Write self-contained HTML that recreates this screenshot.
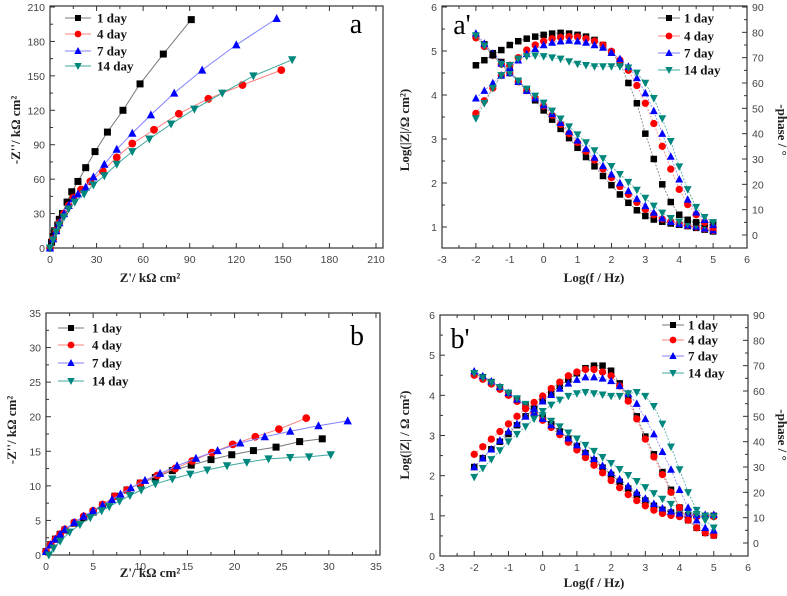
<!DOCTYPE html>
<html><head><meta charset="utf-8"><style>
html,body{margin:0;padding:0;background:#fff;}
svg{display:block;}
.tk{font-family:"Liberation Sans",sans-serif;font-size:10.5px;fill:#444;}
.tt{font-family:"Liberation Serif",serif;font-size:13px;font-weight:bold;fill:#222;}
.lg{font-family:"Liberation Serif",serif;font-size:13px;font-weight:bold;fill:#111;}
.pl{font-family:"Liberation Serif",serif;font-size:28px;fill:#000;}
</style></head><body>
<svg id="fig" width="787" height="596" viewBox="0 0 787 596" xmlns="http://www.w3.org/2000/svg"></svg>
<script>
const seriesNames = ["1 day","4 day","7 day","14 day"];
// Panel a (Nyquist) [Z', -Z'']
const aX1=[0,1,2,3,5,6,8,11,14,18,23,29,37,47,58,73,91];
const aY1=[0,5,10,15,20,25,30,40,49,58,70,84,101,120,143,169,199];
const aX4=[0,2,4,6,9,12,15,20,26,34,43,53,67,83,102,124,149];
const aY4=[0,8,15,22,30,37,44,51,58,67,79,91,103,117,130,142,155];
const aX7=[0,2,4,6,9,12,15,18,23,28,35,43,53,65,80,98,120,146];
const aY7=[0,8,15,22,30,37,43,47,53,62,73,86,100,116,135,155,177,200];
const aX14=[0,2,4,6,9,12,16,22,28,35,43,53,64,78,93,111,131,156];
const aY14=[0,7,14,20,27,34,40,47,55,63,73,84,95,108,121,135,150,164];
// Panel b (Nyquist)
const bX1=[0,0.5,1,1.5,2,3,4,5,6,7.3,8.6,10,11.6,13.4,15.4,17.5,19.7,22,24.4,26.9,29.3];
const bY1=[0.5,1.5,2.3,3,3.6,4.6,5.4,6.2,7.2,8.5,9.4,10.4,11.2,12.2,13,13.8,14.5,15.1,15.6,16.4,16.8];
const bX4=[0,0.5,1,1.5,2,3,4,5,6,7.3,8.6,10,11.8,13.7,15.5,17.6,19.8,22.2,24.7,27.6];
const bY4=[0.5,1.5,2.3,3,3.7,4.7,5.6,6.4,7.3,8.5,9.4,10.4,11.5,12.5,13.6,14.8,16,17.1,18.2,19.8];
const bX7=[0,0.5,1,1.5,2,3,4,5,6,7,7.9,9,10.5,12.1,13.9,15.9,18.2,20.6,23.2,25.9,28.9,32];
const bY7=[0.5,1.5,2.3,3,3.7,4.7,5.6,6.4,7.2,8,8.8,9.7,10.8,11.8,12.9,14,15.1,16.2,17.1,17.9,18.7,19.4];
const bX14=[0.3,0.8,1.5,2.5,3.6,4.7,5.9,6.7,7.8,8.9,10.1,11.6,13.4,15.3,17.1,19.2,21.3,23.6,25.9,27.9,30.2];
const bY14=[0,1,2,3.3,4.4,5.4,6.4,7,7.8,8.6,9.4,10.3,11,11.7,12.3,12.9,13.4,13.9,14.1,14.2,14.5];
// Bode frequencies (log f)
const logF=[-2,-1.75,-1.5,-1.25,-1,-0.75,-0.5,-0.25,0,0.25,0.5,0.75,1,1.25,1.5,1.75,2,2.25,2.5,2.75,3,3.25,3.5,3.75,4,4.25,4.5,4.75,5];
// Panel a' log|Z|
const apZ1=[5.35,5.15,4.95,4.75,4.55,4.32,4.1,3.88,3.65,3.44,3.23,3.02,2.8,2.59,2.38,2.16,1.95,1.74,1.55,1.38,1.25,1.17,1.12,1.08,1.05,1.02,0.98,0.94,0.9];
const apZ4=[5.3,5.1,4.9,4.7,4.5,4.3,4.1,3.93,3.75,3.54,3.33,3.12,2.92,2.72,2.52,2.32,2.12,1.92,1.74,1.56,1.4,1.28,1.18,1.12,1.07,1.03,1.0,0.96,0.92];
const apZ7=[5.4,5.17,4.94,4.72,4.5,4.3,4.1,3.93,3.77,3.57,3.37,3.17,2.97,2.78,2.58,2.39,2.2,2.0,1.82,1.64,1.48,1.33,1.2,1.12,1.07,1.04,1.01,0.97,0.93];
const apZ14=[5.35,5.12,4.9,4.7,4.5,4.32,4.14,3.98,3.82,3.64,3.46,3.28,3.1,2.92,2.74,2.56,2.38,2.2,2.02,1.84,1.66,1.48,1.32,1.2,1.12,1.07,1.04,1.03,1.05];
// Panel a' -phase
const apP1=[67,69,71,73,75,76.5,77.5,78.3,79,79.5,79.8,79.5,79,78.3,77,75,72,68,60,52,40,30,20,13,8,6,5,4.5,4];
const apP4=[48,53,58,63,67,70,73,75,76.5,77.5,78,78.3,78.2,77.5,76.5,75,72.5,69,65,59,52,44,35,26,18,12,8,5,3];
const apP7=[54,57,60,63,66,69,71.5,73.5,75,76,76.5,76.8,76.5,76,75,74,72,69.5,66.5,62,56,49,40,31,22,14,9,6,4];
const apP14=[46,52,58,63,67,69.5,70.5,70.8,70.5,70,69.5,68.5,67.5,67,66.5,66.5,66.5,66.5,66,64,60,54,46,37,27,18,11,7,5];
// Panel b' log|Z|
const bpZ1=[4.55,4.45,4.33,4.2,4.05,3.9,3.75,3.6,3.45,3.28,3.1,2.92,2.74,2.56,2.38,2.2,2.02,1.85,1.68,1.52,1.38,1.25,1.15,1.08,1.03,1.01,1.0,1.0,1.0];
const bpZ4=[4.5,4.4,4.28,4.15,4.0,3.85,3.7,3.55,3.38,3.2,3.02,2.83,2.64,2.45,2.26,2.07,1.88,1.7,1.53,1.38,1.25,1.14,1.06,1.01,0.98,0.98,0.98,0.98,0.98];
const bpZ7=[4.6,4.48,4.35,4.21,4.06,3.9,3.74,3.58,3.42,3.26,3.1,2.93,2.76,2.59,2.42,2.25,2.08,1.91,1.74,1.58,1.43,1.3,1.19,1.11,1.06,1.04,1.03,1.03,1.03];
const bpZ14=[4.55,4.44,4.32,4.2,4.06,3.92,3.78,3.64,3.5,3.36,3.22,3.07,2.92,2.76,2.61,2.46,2.31,2.16,2.01,1.86,1.71,1.56,1.42,1.29,1.18,1.1,1.04,1.0,0.98];
// Panel b' -phase
const bpP1=[30,33.5,37,40,43,46.5,50,53,56,59,62,64.5,67,69,70,70,68,63,57,50,42,35,28,21,14,9,6,4,3];
const bpP4=[35,38,41,44,47,50,53,55.5,58,61,63.5,66,67.5,68.5,68.5,67.5,66,62,56,49,41,34,27,20,14,9,6,4,3];
const bpP7=[30,33.5,37,40.5,44,47,50,53,56,58.5,61,63,64.5,65.5,65.5,65,64,62,59,55,49,43,36,29,21,14,9,6,5];
const bpP14=[26,29.5,33,36.5,40,43,46,49,52,54.5,56.5,58,59,59.5,59,58.5,58,58,59,59.5,58,54,47,38,29,20,13,9,6];

const xTicksNyqA=[0,30,60,90,120,150,180,210];
const xTicksNyqB=[0,5,10,15,20,25,30,35];
const xTicksBode=[-3,-2,-1,0,1,2,3,4,5,6];
const yTicksLogA=[1,2,3,4,5,6];
const yTicksLogB=[0,1,2,3,4,5,6];
const yTicksPhase=[0,10,20,30,40,50,60,70,80,90];

const NS="http://www.w3.org/2000/svg";
const svg=document.getElementById('fig');
const mcol=["#000000","#ff0000","#0000ff","#00877d"];
const lcol=["#777777","#ff8080","#8080ff","#40a8a0"];
function el(tag,attrs,parent){const e=document.createElementNS(NS,tag);for(const k in attrs)e.setAttribute(k,attrs[k]);(parent||svg).appendChild(e);return e;}
function scale(d0,d1,p0,p1){return v=>p0+(v-d0)*(p1-p0)/(d1-d0);}
function marker(g,k,x,y,s){
  let e;
  if(k===0){e=el('rect',{x:x-s/2,y:y-s/2,width:s,height:s,fill:mcol[0]},g);}
  else if(k===1){e=el('circle',{cx:x,cy:y,r:s/2+0.4,fill:mcol[1]},g);}
  else if(k===2){e=el('polygon',{points:`${x},${y-s/2-1} ${x-s/2-0.7},${y+s/2} ${x+s/2+0.7},${y+s/2}`,fill:mcol[2]},g);}
  else {e=el('polygon',{points:`${x},${y+s/2+1} ${x-s/2-0.7},${y-s/2} ${x+s/2+0.7},${y-s/2}`,fill:mcol[3]},g);}
  
  
}
function text(str,x,y,cls,anchor,parent,name,rot){
  const t=el('text',{x:x,y:y,class:cls,'text-anchor':anchor||'middle'},parent);
  if(rot)t.setAttribute('transform',`rotate(${rot} ${x} ${y})`);
  t.textContent=str;
  
  
  return t;
}
function frame(g,x0,y0,x1,y1){
  const r=el('rect',{x:x0,y:y0,width:x1-x0,height:y1-y0,fill:'none',stroke:'#333','stroke-width':1.2},g);
  
  
}
function xAxis(g,sx,ticks,y0,y1){
  for(let i=0;i<ticks.length;i++){
    const x=sx(ticks[i]);
    el('line',{x1:x,y1:y1,x2:x,y2:y1-5,stroke:'#333'},g);
    el('line',{x1:x,y1:y0,x2:x,y2:y0+5,stroke:'#333'},g);
    if(i<ticks.length-1){const xm=(x+sx(ticks[i+1]))/2;el('line',{x1:xm,y1:y1,x2:xm,y2:y1-3,stroke:'#333'},g);el('line',{x1:xm,y1:y0,x2:xm,y2:y0+3,stroke:'#333'},g);}
    text(String(ticks[i]),x,y1+15,'tk','middle',g,'x-tick-label');
  }
}
function yAxis(g,sy,ticks,x0,x1,side){
  for(let i=0;i<ticks.length;i++){
    const y=sy(ticks[i]);
    if(side==='left'){el('line',{x1:x0,y1:y,x2:x0+5,y2:y,stroke:'#333'},g);text(String(ticks[i]),x0-5,y+4,'tk','end',g,'y-tick-label');}
    else {el('line',{x1:x1,y1:y,x2:x1-5,y2:y,stroke:'#333'},g);text(String(ticks[i]),x1+5,y+4,'tk','start',g,'y2-tick-label');}
    if(i<ticks.length-1){const ym=(y+sy(ticks[i+1]))/2;if(side==='left')el('line',{x1:x0,y1:ym,x2:x0+3,y2:ym,stroke:'#333'},g);else el('line',{x1:x1,y1:ym,x2:x1-3,y2:ym,stroke:'#333'},g);}
  }
}
function series(g,k,xs,ys,sx,sy,s,withLine){
  const sg=el('g',{},g);
  
  
  const pts=xs.map((v,i)=>`${sx(v).toFixed(1)},${sy(ys[i]).toFixed(1)}`).join(' ');
  el('polyline',{points:pts,fill:'none',stroke:lcol[k],'stroke-width':withLine?1:0.8,'stroke-dasharray':withLine?'none':'2,1.5'},sg);
  xs.forEach((v,i)=>marker(sg,k,sx(v),sy(ys[i]),s));
}
function legend(g,x,ys,tx,w){
  ys.forEach((y,k)=>{
    const lg=el('g',{},g);
    
    
    el('line',{x1:x,y1:y,x2:x+w,y2:y,stroke:lcol[k],'stroke-width':1},lg);
    marker(lg,k,x+w/2,y,6);
    text(seriesNames[k],tx,y+4.5,'lg','start',lg,'legend-label');
  });
}

// Panel a
(function(){
  const g=el('g',{});
  const x0=50,x1=383,y0=6,y1=248;
  const sx=scale(0,210,50,376), sy=scale(0,210,248,7);
  frame(g,x0,y0,x1,y1);xAxis(g,sx,xTicksNyqA,y0,y1);yAxis(g,sy,xTicksNyqA,x0,x1,'left');
  series(g,0,aX1,aY1,sx,sy,7,true);series(g,1,aX4,aY4,sx,sy,7,true);series(g,2,aX7,aY7,sx,sy,7,true);series(g,3,aX14,aY14,sx,sy,7,true);
  legend(g,65,[18,34,51,66],97,26);
  text('a',356,33,'pl','middle',g,'panel-label-a');
  text("Z'/ kΩ cm²",150,282,'tt','middle',g,'x-axis-title');
  text("-Z''/ kΩ cm²",20,130,'tt','middle',g,'y-axis-title',-90);
})();
// Panel a'
(function(){
  const g=el('g',{});
  const x0=442,x1=747,y0=6,y1=248;
  const sx=scale(-3,6,442,747), sy=scale(1,6,227,7), sp=scale(0,90,235,7);
  frame(g,x0,y0,x1,y1);xAxis(g,sx,xTicksBode,y0,y1);yAxis(g,sy,yTicksLogA,x0,x1,'left');yAxis(g,sp,yTicksPhase,x0,x1,'right');
  series(g,0,logF,apZ1,sx,sy,6.5,false);series(g,1,logF,apZ4,sx,sy,6.5,false);series(g,2,logF,apZ7,sx,sy,6.5,false);series(g,3,logF,apZ14,sx,sy,6.5,false);
  series(g,0,logF,apP1,sx,sp,6.5,false);series(g,1,logF,apP4,sx,sp,6.5,false);series(g,2,logF,apP7,sx,sp,6.5,false);series(g,3,logF,apP14,sx,sp,6.5,false);
  legend(g,658,[18,36,53,70],684,22);
  text("a'",462,34,'pl','middle',g,'panel-label-a-prime');
  text("Log(f / Hz)",594,282,'tt','middle',g,'x-axis-title');
  text("Log(|Z|/Ω cm²)",409,130,'tt','middle',g,'y-axis-title',-90);
  text("-phase / °",778,130,'tt','middle',g,'y2-axis-title',90);
})();
// Panel b
(function(){
  const g=el('g',{});
  const x0=46,x1=380,y0=313,y1=555;
  const sx=scale(0,35,46,376), sy=scale(0,35,555,313);
  frame(g,x0,y0,x1,y1);xAxis(g,sx,xTicksNyqB,y0,y1);yAxis(g,sy,xTicksNyqB,x0,x1,'left');
  series(g,0,bX1,bY1,sx,sy,7,true);series(g,1,bX4,bY4,sx,sy,7,true);series(g,2,bX7,bY7,sx,sy,7,true);series(g,3,bX14,bY14,sx,sy,7,true);
  legend(g,58,[328,345,363,381],92,26);
  text('b',357,345,'pl','middle',g,'panel-label-b');
  text("Z'/ kΩ cm²",150,577,'tt','middle',g,'x-axis-title');
  text("-Z''/ kΩ cm²",16,430,'tt','middle',g,'y-axis-title',-90);
})();
// Panel b'
(function(){
  const g=el('g',{});
  const x0=440,x1=748,y0=315,y1=556;
  const sx=scale(-3,6,440,748), sy=scale(0,6,556,315), sp=scale(0,90,543,315);
  frame(g,x0,y0,x1,y1);xAxis(g,sx,xTicksBode,y0,y1);yAxis(g,sy,yTicksLogB,x0,x1,'left');yAxis(g,sp,yTicksPhase,x0,x1,'right');
  series(g,0,logF,bpZ1,sx,sy,6.5,false);series(g,1,logF,bpZ4,sx,sy,6.5,false);series(g,2,logF,bpZ7,sx,sy,6.5,false);series(g,3,logF,bpZ14,sx,sy,6.5,false);
  series(g,0,logF,bpP1,sx,sp,6.5,false);series(g,1,logF,bpP4,sx,sp,6.5,false);series(g,2,logF,bpP7,sx,sp,6.5,false);series(g,3,logF,bpP14,sx,sp,6.5,false);
  legend(g,662,[325,340,356,373],688,22);
  text("b'",460,348,'pl','middle',g,'panel-label-b-prime');
  text("Log(f / Hz)",594,587,'tt','middle',g,'x-axis-title');
  text("Log(|Z| / Ω cm²)",409,435,'tt','middle',g,'y-axis-title',-90);
  text("-phase / °",778,435,'tt','middle',g,'y2-axis-title',90);
})();
</script>
</body></html>
